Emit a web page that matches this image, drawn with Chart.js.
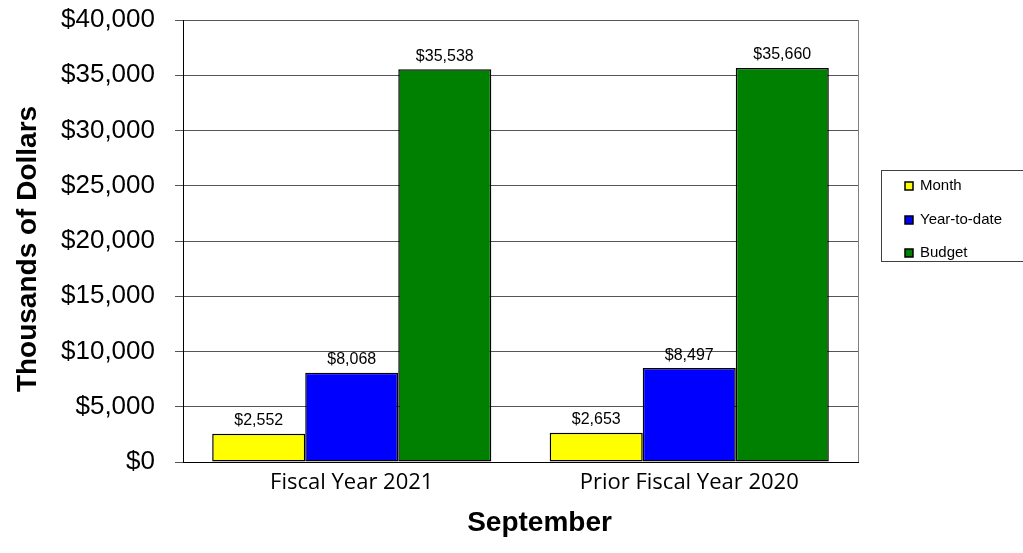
<!DOCTYPE html>
<html>
<head>
<meta charset="utf-8">
<script src="https://cdn.jsdelivr.net/npm/chart.js@4.4.0/dist/chart.umd.min.js"></script>
<style>
  html, body { margin: 0; padding: 0; background: #fff; }
  #wrap { width: 1023px; height: 553px; }
</style>
</head>
<body>
<div id="wrap"><canvas id="revenueChart" width="1023" height="553"></canvas></div>
<script>
const categories = ['Fiscal Year 2021', 'Prior Fiscal Year 2020'];
const seriesNames = ['Month', 'Year-to-date', 'Budget'];
const monthValues = [2552, 2653];
const ytdValues = [8068, 8497];
const budgetValues = [35538, 35660];
const seriesColors = ['#ffff00', '#0000ff', '#008000'];
const yMin = 0;
const yMax = 40000;
const yStep = 5000;
const xTitle = 'September';
const yTitle = 'Thousands of Dollars';

const ARIAL = "'Liberation Sans', Arial, sans-serif";

function money(v) {
    return '$' + Number(v).toLocaleString('en-US');
}

// right-hand edge of the plot box (left/bottom come from the axes)
const plotFrame = {
    id: 'plotFrame',
    beforeDatasetsDraw(chart) {
        const { ctx, chartArea } = chart;
        ctx.save();
        ctx.strokeStyle = '#808080';
        ctx.lineWidth = 1;
        ctx.beginPath();
        ctx.moveTo(Math.round(chartArea.right) + 0.5, chartArea.top);
        ctx.lineTo(Math.round(chartArea.right) + 0.5, chartArea.bottom);
        ctx.stroke();
        ctx.restore();
    }
};

// value above each bar
const barLabels = {
    id: 'barLabels',
    afterDatasetsDraw(chart) {
        const { ctx } = chart;
        ctx.save();
        ctx.font = '16px ' + ARIAL;
        ctx.fillStyle = '#000';
        ctx.textAlign = 'center';
        ctx.textBaseline = 'bottom';
        chart.data.datasets.forEach((ds, i) => {
            chart.getDatasetMeta(i).data.forEach((bar, j) => {
                ctx.fillText(money(ds.data[j]), bar.x, bar.y - 5);
            });
        });
        ctx.restore();
    }
};

// bold axis captions: category caption below, value caption rotated on the left
const axisCaptions = {
    id: 'axisCaptions',
    afterDraw(chart) {
        const { ctx, chartArea } = chart;
        ctx.save();
        ctx.font = 'bold 28px ' + ARIAL;
        ctx.fillStyle = '#000';
        ctx.textAlign = 'center';
        ctx.textBaseline = 'middle';
        ctx.fillText(xTitle, (chartArea.left + chartArea.right) / 2 + 19, 523);
        ctx.translate(28, (chartArea.top + chartArea.bottom) / 2 + 8);
        ctx.rotate(-Math.PI / 2);
        ctx.fillText(yTitle, 0, 0);
        ctx.restore();
    }
};

// boxed legend on the right
const boxLegend = {
    id: 'boxLegend',
    afterDraw(chart) {
        const { ctx } = chart;
        const left = 881, top = 170, bottom = 261;
        ctx.save();
        ctx.strokeStyle = '#404040';
        ctx.lineWidth = 1;
        ctx.strokeRect(left + 0.5, top + 0.5, 200, bottom - top);
        ctx.font = '15px ' + ARIAL;
        ctx.textBaseline = 'middle';
        ctx.textAlign = 'left';
        const rows = [186, 220, 253];
        chart.data.datasets.forEach((ds, i) => {
            const y = rows[i];
            ctx.fillStyle = ds.backgroundColor;
            ctx.fillRect(905, y - 4, 8, 8);
            ctx.strokeStyle = '#000';
            ctx.lineWidth = 1.5;
            ctx.strokeRect(905, y - 4, 8, 8);
            ctx.fillStyle = '#000';
            ctx.fillText(ds.label, 920, y);
        });
        ctx.restore();
    }
};

const seriesData = [monthValues, ytdValues, budgetValues];

new Chart(document.getElementById('revenueChart'), {
    type: 'bar',
    data: {
        labels: categories,
        datasets: seriesNames.map((name, i) => ({
            label: name,
            data: seriesData[i],
            backgroundColor: seriesColors[i],
            borderColor: '#000',
            borderWidth: 1.5,
            borderSkipped: false,
            categoryPercentage: 0.827,
            barPercentage: 1
        }))
    },
    options: {
        responsive: false,
        animation: false,
        devicePixelRatio: 1,
        layout: { padding: { top: 20, right: 165, bottom: 0, left: 0 } },
        plugins: {
            legend: { display: false },
            tooltip: { enabled: false }
        },
        scales: {
            x: {
                grid: { display: false },
                border: { color: '#000', width: 1 },
                ticks: {
                    color: '#000',
                    padding: 0,
                    font: { family: "'Open Sans', 'Noto Sans', sans-serif", size: 22 }
                },
                afterFit(scale) { scale.height = 91; }
            },
            y: {
                min: yMin,
                max: yMax,
                ticks: {
                    stepSize: yStep,
                    color: '#000',
                    padding: 20,
                    font: { family: ARIAL, size: 26 },
                    callback: v => money(v)
                },
                grid: { color: '#555', lineWidth: 1, tickLength: 8 },
                border: { color: '#000', width: 1 },
                afterFit(scale) {
                    scale.width = 183;
                    // the top label may poke above the plot; layout padding covers it
                    scale.paddingTop = 0;
                    scale.paddingBottom = 0;
                }
            }
        }
    },
    plugins: [plotFrame, barLabels, axisCaptions, boxLegend]
});
</script>
</body>
</html>
